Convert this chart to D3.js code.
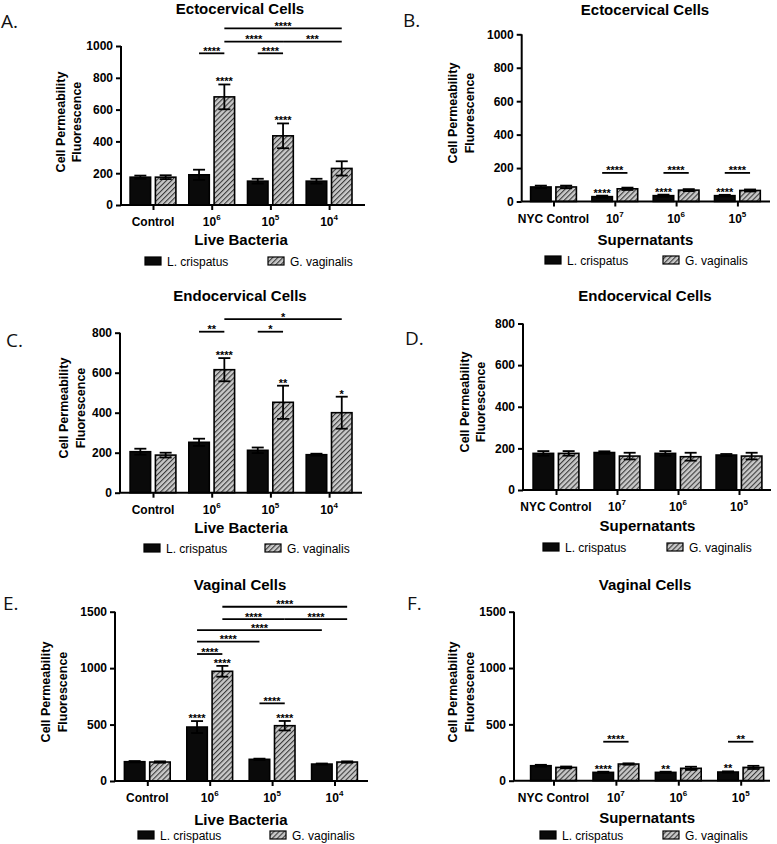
<!DOCTYPE html>
<html><head><meta charset="utf-8">
<script src="https://cdn.jsdelivr.net/npm/d3@7/dist/d3.min.js"></script>
<style>body{margin:0;background:#fff}</style>
</head><body>
<svg id="c" width="777" height="844"></svg>
<script>
// ---------- DATA ----------
const liveCats = ["Control", "10^6", "10^5", "10^4"];
const supCats = ["NYC Control", "10^7", "10^6", "10^5"];
const seriesNames = ["L. crispatus", "G. vaginalis"];

const aTicks = [0, 200, 400, 600, 800, 1000];
const cTicks = [0, 200, 400, 600, 800];
const eTicks = [0, 500, 1000, 1500];

// A. Ectocervical, live bacteria
const aCris = [175, 190, 150, 150];
const aCrisErr = [10, 32, 15, 15];
const aGv = [175, 680, 435, 230];
const aGvErr = [12, 78, 78, 45];
const aStars = [[1, 1, "****"], [2, 1, "****"]];
const aBrackets = [[1, 0, 1, 1, 954, "****"], [2, 0, 2, 1, 954, "****"], [1, 1, 2, 1, 1027, "****"], [2, 1, 3, 1, 1027, "***"], [1, 1, 3, 1, 1111, "****"]];

// B. Ectocervical, supernatants
const bCris = [87, 29, 35, 35];
const bCrisErr = [8, 6, 6, 5];
const bGv = [87, 76, 68, 66];
const bGvErr = [8, 7, 6, 6];
const bStars = [[1, 0, "****"], [2, 0, "****"], [3, 0, "****"]];
const bBrackets = [[1, 0, 1, 1, 171, "****"], [2, 0, 2, 1, 171, "****"], [3, 0, 3, 1, 171, "****"]];

// C. Endocervical, live bacteria
const cCris = [205, 252, 212, 190];
const cCrisErr = [15, 18, 14, 5];
const cGv = [188, 615, 452, 400];
const cGvErr = [12, 58, 83, 80];
const cStars = [[1, 1, "****"], [2, 1, "**"], [3, 1, "*"]];
const cBrackets = [[1, 0, 1, 1, 805, "**"], [2, 0, 2, 1, 805, "*"], [1, 1, 3, 1, 868, "*"]];

// D. Endocervical, supernatants
const dCris = [176, 180, 176, 168];
const dCrisErr = [11, 6, 11, 5];
const dGv = [176, 163, 160, 163];
const dGvErr = [11, 16, 19, 16];
const dStars = [];
const dBrackets = [];

// E. Vaginal, live bacteria
const eCris = [171, 478, 192, 150];
const eCrisErr = [6, 53, 6, 5];
const eGv = [168, 972, 490, 168];
const eGvErr = [6, 48, 42, 6];
const eStars = [[1, 0, "****"], [1, 1, "****"], [2, 1, "****"]];
const eBrackets = [[1, 0, 1, 1, 1125, "****"], [1, 0, 2, 0, 1234, "****"], [1, 0, 3, 0, 1337, "****"], [1, 1, 2, 1, 1435, "****"], [2, 1, 3, 1, 1435, "****"], [1, 1, 3, 1, 1544, "****"], [2, 0, 2, 1, 688, "****"]];

// F. Vaginal, supernatants
const fCris = [133, 74, 74, 77];
const fCrisErr = [8, 6, 6, 6];
const fGv = [118, 148, 110, 118];
const fGvErr = [8, 6, 14, 14];
const fStars = [[1, 0, "****"], [2, 0, "**"], [3, 0, "**"]];
const fBrackets = [[1, 0, 1, 1, 346, "****"], [3, 0, 3, 1, 346, "**"]];

// ---------- LAYOUT ----------
const panels = [
  {letter: "A.", lx: 1, ly: 28, title: "Ectocervical Cells", tx: 240, ty: 13.5, cats: liveCats, xTitle: "Live Bacteria",
   vals: [aCris, aGv], errs: [aCrisErr, aGvErr], ticks: aTicks, ymax: 1000, stars: aStars, brackets: aBrackets,
   axisX: 121, xEnd: 365, first: 153, step: 58.7, y0: 205, yTop: 46, yt1: 64.5, ytc: 122, xTitleY: 245, legY: 261, legX: [145, 268]},
  {letter: "B.", lx: 403, ly: 27, title: "Ectocervical Cells", tx: 645, ty: 15, cats: supCats, xTitle: "Supernatants",
   vals: [bCris, bGv], errs: [bCrisErr, bGvErr], ticks: aTicks, ymax: 1000, stars: bStars, brackets: bBrackets,
   axisX: 521.7, xEnd: 770, first: 553.5, step: 61.3, y0: 201.5, yTop: 34.3, yt1: 457, ytc: 113, xTitleY: 245, legY: 260, legX: [545, 663]},
  {letter: "C.", lx: 6, ly: 347, title: "Endocervical Cells", tx: 240, ty: 301, cats: liveCats, xTitle: "Live Bacteria",
   vals: [cCris, cGv], errs: [cCrisErr, cGvErr], ticks: cTicks, ymax: 800, stars: cStars, brackets: cBrackets,
   axisX: 120, xEnd: 362, first: 153, step: 58.7, y0: 492.7, yTop: 332.7, yt1: 68, ytc: 408, xTitleY: 533, legY: 548, legX: [144, 265]},
  {letter: "D.", lx: 405, ly: 345, title: "Endocervical Cells", tx: 645, ty: 301, cats: supCats, xTitle: "Supernatants",
   vals: [dCris, dGv], errs: [dCrisErr, dGvErr], ticks: cTicks, ymax: 800, stars: dStars, brackets: dBrackets,
   axisX: 523, xEnd: 771, first: 556, step: 61, y0: 490, yTop: 323.5, yt1: 468.5, ytc: 402, xTitleY: 531, legY: 547, legX: [543, 667]},
  {letter: "E.", lx: 3, ly: 610, title: "Vaginal Cells", tx: 240, ty: 590, cats: liveCats, xTitle: "Live Bacteria",
   vals: [eCris, eGv], errs: [eCrisErr, eGvErr], ticks: eTicks, ymax: 1500, stars: eStars, brackets: eBrackets,
   axisX: 115, xEnd: 368, first: 147.3, step: 62.4, y0: 781, yTop: 611.7, yt1: 50, ytc: 692, xTitleY: 825, legY: 835, legX: [138, 270]},
  {letter: "F.", lx: 407, ly: 610, title: "Vaginal Cells", tx: 645, ty: 590, cats: supCats, xTitle: "Supernatants",
   vals: [fCris, fGv], errs: [fCrisErr, fGvErr], ticks: eTicks, ymax: 1500, stars: fStars, brackets: fBrackets,
   axisX: 514, xEnd: 770, first: 553.5, step: 62.4, y0: 780.7, yTop: 611.7, yt1: 457, ytc: 692, xTitleY: 823, legY: 835, legX: [540, 663]}
];

const FONT = "'Liberation Sans', Arial, Helvetica, sans-serif";
const svg = d3.select("#c");

// hatch pattern
const defs = svg.append("defs");
const pat = defs.append("pattern").attr("id", "hatch").attr("patternUnits", "userSpaceOnUse")
  .attr("width", 3.6).attr("height", 3.6).attr("patternTransform", "rotate(45)");
pat.append("rect").attr("width", 3.6).attr("height", 3.6).attr("fill", "#c8c8c8");
pat.append("line").attr("x1", 0).attr("y1", 0).attr("x2", 0).attr("y2", 3.6)
  .attr("stroke", "#3a3a3a").attr("stroke-width", 2.2);

function catText(sel, label, supSize) {
  const m = label.match(/^10\^(\d+)$/);
  if (m) {
    sel.append("tspan").text("10");
    sel.append("tspan").attr("font-size", supSize).attr("dy", -6).text(m[1]);
  } else sel.text(label);
}

panels.forEach(p => {
  const g = svg.append("g");
  const x = d3.scalePoint().domain(p.cats)
    .range([p.first - p.step / 2, p.first + p.step * 3.5]).padding(0.5);
  const barW = 20.5, gap = 4.8;
  const xs = d3.scaleBand().domain([0, 1]).range([-(barW + gap / 2), barW + gap / 2]).paddingInner(gap / (barW + gap));
  const y = d3.scaleLinear().domain([0, p.ymax]).range([p.y0, p.yTop]);
  const bx = (gi, s) => x(p.cats[gi]) + xs(s) + xs.bandwidth() / 2;

  // panel letter
  g.append("text").attr("x", p.lx).attr("y", p.ly).attr("font-family", "'Open Sans', 'Noto Sans', sans-serif")
    .attr("font-size", 19).attr("fill", "#111").text(p.letter);
  // title
  g.append("text").attr("x", p.tx).attr("y", p.ty).attr("text-anchor", "middle").attr("font-family", FONT)
    .attr("font-weight", "bold").attr("font-size", 15).text(p.title);

  // bars
  [0, 1].forEach(s => {
    g.append("g").selectAll("rect").data(p.vals[s]).join("rect")
      .attr("x", (d, i) => x(p.cats[i]) + xs(s))
      .attr("y", d => y(d))
      .attr("width", xs.bandwidth())
      .attr("height", d => y(0) - y(d))
      .attr("fill", s === 0 ? "#0a0a0a" : "url(#hatch)")
      .attr("stroke", "#000").attr("stroke-width", 1.6);
    // error bars
    const eg = g.append("g").attr("stroke", "#000").attr("stroke-width", 1.8).attr("fill", "none");
    p.vals[s].forEach((v, i) => {
      const e = p.errs[s][i], cx = bx(i, s), cw = 6;
      eg.append("line").attr("x1", cx).attr("x2", cx).attr("y1", y(v - e)).attr("y2", y(v + e));
      eg.append("line").attr("x1", cx - cw).attr("x2", cx + cw).attr("y1", y(v + e)).attr("y2", y(v + e));
      eg.append("line").attr("x1", cx - cw).attr("x2", cx + cw).attr("y1", y(v - e)).attr("y2", y(v - e));
    });
  });

  // y axis
  const yAxis = d3.axisLeft(y).tickValues(p.ticks).tickSize(5).tickPadding(3).tickFormat(d3.format("d"));
  const ya = g.append("g").attr("transform", `translate(${p.axisX},0)`).call(yAxis);
  ya.select(".domain").attr("stroke-width", 2).attr("d", `M0,${p.y0}V${p.yTop}`);
  ya.selectAll(".tick line").attr("stroke-width", 2);
  ya.selectAll(".tick text").attr("font-family", FONT).attr("font-weight", "bold").attr("font-size", 12).attr("fill", "#000");

  // x axis
  const xAxis = d3.axisBottom(x).tickSize(5).tickFormat("");
  const xa = g.append("g").attr("transform", `translate(0,${p.y0})`).call(xAxis);
  xa.select(".domain").attr("stroke-width", 2).attr("d", `M${p.axisX},0H${p.xEnd}`);
  xa.selectAll(".tick line").attr("stroke-width", 2);
  p.cats.forEach(c => {
    const t = g.append("text").attr("x", x(c)).attr("y", p.y0 + 21).attr("text-anchor", "middle")
      .attr("font-family", FONT).attr("font-weight", "bold").attr("font-size", 12);
    catText(t, c, 8);
  });

  // axis titles
  const cx = (x(p.cats[0]) + x(p.cats[3])) / 2;
  g.append("text").attr("x", cx).attr("y", p.xTitleY).attr("text-anchor", "middle").attr("font-family", FONT)
    .attr("font-weight", "bold").attr("font-size", 15).text(p.xTitle);
  ["Cell Permeability", "Fluorescence"].forEach((t, k) => {
    g.append("text").attr("transform", `translate(${p.yt1 + k * 16.5},${p.ytc}) rotate(-90)`)
      .attr("text-anchor", "middle").attr("font-family", FONT).attr("font-weight", "bold").attr("font-size", 12.5).text(t);
  });

  // stars above bars
  p.stars.forEach(([gi, s, lab]) => {
    const v = p.vals[s][gi] + p.errs[s][gi];
    g.append("text").attr("x", bx(gi, s)).attr("y", y(v) + 1).attr("text-anchor", "middle")
      .attr("font-family", FONT).attr("font-weight", "bold").attr("font-size", 11).text(lab);
  });
  // brackets
  p.brackets.forEach(([g1, s1, g2, s2, lv, lab]) => {
    const x1 = bx(g1, s1), x2 = bx(g2, s2), yy = y(lv);
    g.append("line").attr("x1", x1).attr("x2", x2).attr("y1", yy).attr("y2", yy)
      .attr("stroke", "#000").attr("stroke-width", 1.8);
    g.append("text").attr("x", (x1 + x2) / 2).attr("y", yy + 1.5).attr("text-anchor", "middle")
      .attr("font-family", FONT).attr("font-weight", "bold").attr("font-size", 11).text(lab);
  });

  // legend
  seriesNames.forEach((n, s) => {
    g.append("rect").attr("x", p.legX[s]).attr("y", p.legY - 4).attr("width", 16).attr("height", 8)
      .attr("fill", s === 0 ? "#0a0a0a" : "url(#hatch)").attr("stroke", "#000").attr("stroke-width", 1.2);
    g.append("text").attr("x", p.legX[s] + 22).attr("y", p.legY + 4.5).attr("font-family", FONT)
      .attr("font-size", 12).text(n);
  });
});
</script>
</body></html>
